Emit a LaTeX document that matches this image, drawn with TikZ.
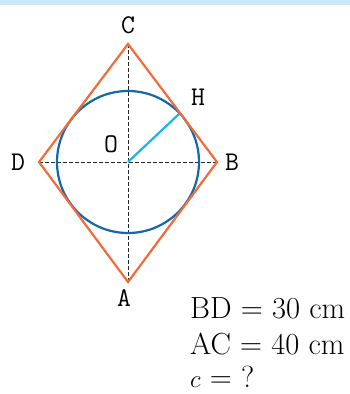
\documentclass[tikz,border=0pt]{standalone}
\usepackage{fontspec}
\definecolor{band}{HTML}{C9E8F8}
\definecolor{rhomb}{HTML}{F26B3A}
\definecolor{circ}{HTML}{1467A8}
\definecolor{rad}{HTML}{1AB4E8}
\begin{document}
\begin{tikzpicture}[x=1pt,y=-1pt,
  lbl/.style={font=\fontsize{27}{30}\selectfont\ttfamily, inner sep=0pt},
  txt/.style={font=\fontsize{30.5}{34}\selectfont, inner sep=0pt, anchor=base west},
  diag/.style={dash pattern=on 3.5pt off 2.5pt, line width=1pt, black!85},
]
\useasboundingbox (0,0) rectangle (350,394);
\fill[band] (0,0) rectangle (350,5);
\coordinate (O) at (128,162);
\coordinate (C) at (128,44);
\coordinate (A) at (128,282);
\coordinate (D) at (39,162);
\coordinate (B) at (217,162);
\coordinate (H) at (179,114);
\draw[diag] (C) -- (A);
\draw[diag] (D) -- (B);
\draw[circ, line width=2.2pt] (O) circle[radius=71];
\draw[rad, line width=2.2pt] (O) -- (H);
\draw[rhomb, line width=2.2pt, line join=miter] (C) -- (B) -- (A) -- (D) -- cycle;
\node[lbl] (lC) at (128,25) {C};
\node[lbl] (lH) at (198,97) {H};
\node[lbl] (lO) at (111,144) {O};
\node[lbl] (lD) at (18,162) {D};
\node[lbl] (lB) at (232,162) {B};
\node[lbl] (lA) at (124,298) {A};
\node[txt] (t1) at (190,318) {BD = 30 cm};
\node[txt] (t2) at (190,354) {AC = 40 cm};
\node[txt] (t3) at (190,387) {$c$ = ?};
\end{tikzpicture}
\end{document}
